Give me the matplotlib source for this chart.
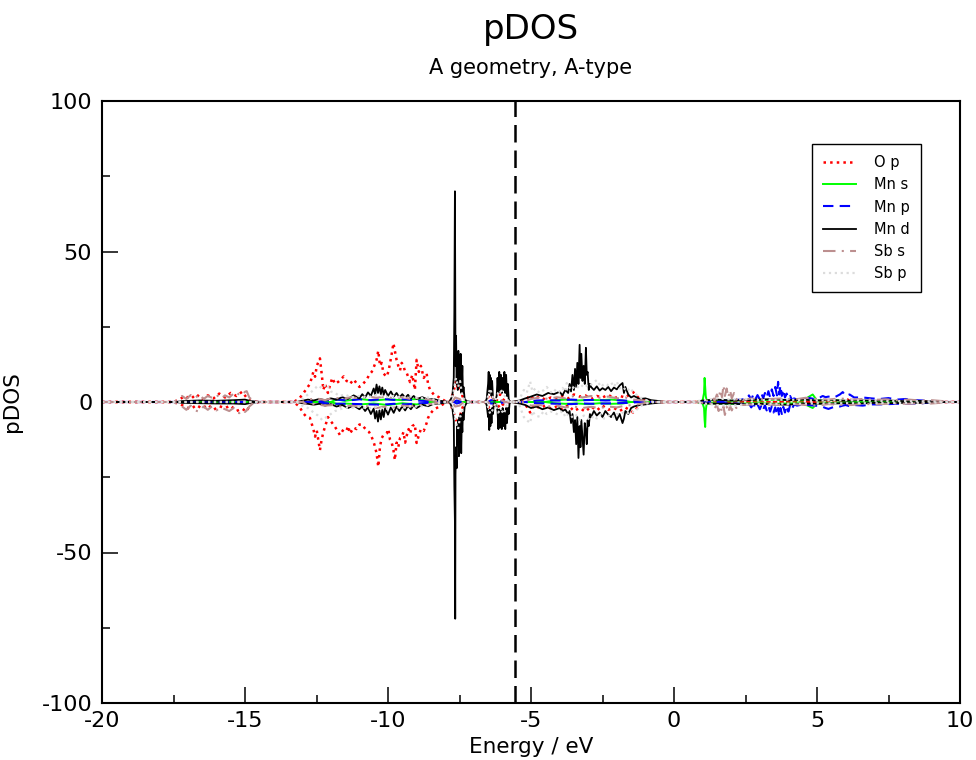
import numpy as np
import matplotlib
matplotlib.use('Agg')
import matplotlib.pyplot as plt

plt.rcParams['font.family'] = ['DejaVu Sans']
plt.rcParams['axes.unicode_minus'] = False

# (energy / eV, spin up, spin down)
o_p = [
    (-20, 0, 0), (-17.5, 0, 0), (-17.3, 0.8, -0.6), (-17.1, 2.0, -1.5), (-16.9, 1.0, -2.4),
    (-16.7, 2.6, -1.0), (-16.5, 0.8, -2.2), (-16.3, 2.2, -0.9), (-16.1, 1.2, -2.6), (-15.9, 2.8, -1.4),
    (-15.7, 1.5, -2.0), (-15.5, 3.0, -1.2), (-15.3, 2.0, -3.0), (-15.1, 3.4, -2.2), (-14.95, 1.5, -3.2),
    (-14.8, 0.3, -0.5), (-14.5, 0, 0), (-13.3, 0, 0), (-13.1, 1.2, -1.5), (-12.96, 2.9, -3.8),
    (-12.84, 4.5, -5.0), (-12.73, 6.0, -5.3), (-12.61, 10.0, -9.0), (-12.55, 8.4, -11.5), (-12.49, 12.0, -9.5),
    (-12.38, 14.5, -16.0), (-12.32, 9.5, -12.5), (-12.26, 4.0, -10.0), (-12.2, 6.0, -8.2), (-12.1, 3.0, -5.0),
    (-12.03, 5.5, -6.0), (-11.95, 8.0, -7.0), (-11.85, 6.0, -8.3), (-11.74, 6.7, -10.0), (-11.68, 7.2, -11.0),
    (-11.55, 8.5, -9.0), (-11.45, 7.0, -9.4), (-11.39, 6.7, -8.0), (-11.33, 6.0, -10.5), (-11.2, 7.5, -8.5),
    (-11.1, 6.2, -9.0), (-11.0, 5.0, -7.5), (-10.92, 5.5, -7.4), (-10.83, 6.5, -8.5), (-10.75, 7.3, -9.4),
    (-10.66, 9.0, -10.0), (-10.57, 10.0, -11.6), (-10.48, 12.0, -14.0), (-10.4, 14.0, -17.0), (-10.34, 17.0, -21.5),
    (-10.28, 12.0, -14.8), (-10.22, 13.0, -12.0), (-10.16, 9.5, -11.0), (-10.05, 8.4, -10.5), (-9.99, 10.0, -9.0),
    (-9.93, 12.8, -12.5), (-9.87, 16.0, -13.5), (-9.81, 19.5, -16.0), (-9.76, 17.0, -19.3), (-9.7, 14.0, -13.5),
    (-9.64, 12.0, -15.0), (-9.58, 10.5, -12.0), (-9.52, 13.0, -11.6), (-9.46, 12.0, -10.0), (-9.4, 10.0, -13.5),
    (-9.34, 9.5, -11.0), (-9.28, 8.0, -9.0), (-9.23, 6.6, -10.5), (-9.15, 9.0, -8.0), (-9.06, 4.0, -7.4),
    (-9.0, 14.0, -13.6), (-8.92, 10.0, -11.0), (-8.85, 12.0, -9.0), (-8.75, 8.0, -9.6), (-8.65, 9.6, -7.0),
    (-8.6, 6.0, -5.3), (-8.53, 4.0, -4.0), (-8.4, 2.5, -2.5), (-8.2, 1.5, -1.5), (-8.0, 0.3, -0.3),
    (-7.85, 0, 0), (-7.72, 3.0, -3.0), (-7.62, 7.0, -6.0), (-7.55, 4.0, -7.0), (-7.48, 5.5, -4.5),
    (-7.4, 2.0, -2.0), (-7.3, 0, 0), (-6.55, 0, 0), (-6.45, 3.0, -2.5), (-6.4, 5.0, -4.5),
    (-6.35, 1.5, -1.5), (-6.2, 0.5, -0.5), (-6.08, 2.5, -2.0), (-6.0, 1.0, -1.0), (-5.85, 0, 0),
    (-5.3, 0, 0), (-5.15, 1.0, -1.5), (-5.03, 2.3, -3.5), (-4.9, 1.0, -1.0), (-4.7, 1.8, -2.0),
    (-4.5, 0.8, -1.2), (-4.3, 1.5, -2.2), (-4.1, 1.0, -1.5), (-3.9, 2.0, -2.5), (-3.7, 1.2, -1.0),
    (-3.5, 2.5, -3.0), (-3.3, 1.8, -2.0), (-3.1, 2.2, -3.2), (-2.9, 1.0, -1.5), (-2.7, 2.0, -2.8),
    (-2.5, 1.5, -1.2), (-2.3, 2.4, -2.6), (-2.1, 1.2, -2.0), (-1.9, 2.0, -3.0), (-1.7, 1.5, -1.8),
    (-1.43, 3.3, -3.5), (-1.2, 1.0, -1.0), (-0.9, 0.3, -0.3), (-0.7, 0, 0), (5.8, 0, 0),
    (6.04, 1.0, -0.6), (6.2, 0, 0), (10, 0, 0),
]

mn_s = [
    (-20, 0, 0), (-12.0, 0, 0), (-11.8, 0.8, -0.6), (-11.5, 0.4, -0.5), (-11.0, 1.0, -0.8),
    (-10.5, 0.5, -0.5), (-10.0, 0.9, -1.0), (-9.5, 0.6, -0.4), (-9.0, 1.0, -0.8), (-8.6, 0.3, -0.3),
    (-8.4, 0, 0), (-4.5, 0, 0), (-4.2, 0.5, -0.4), (-3.8, 0.8, -0.6), (-3.4, 0.5, -0.5),
    (-3.0, 0.7, -0.7), (-2.6, 0.6, -0.4), (-2.2, 0.8, -0.6), (-1.8, 0.5, -0.5), (-1.5, 0, 0),
    (0.8, 0, 0), (1.0, 0.5, -0.5), (1.05, 3.0, -2.0), (1.07, 8.0, -6.0), (1.09, 5.0, -8.3),
    (1.11, 2.0, -3.0), (1.14, 0.6, -0.6), (1.3, 0.5, -0.4), (1.6, 0.6, -0.5), (2.0, 0.4, -0.6),
    (2.5, 0.7, -0.5), (3.0, 0.5, -0.4), (3.5, 0.8, -0.6), (4.0, 0.6, -0.5), (4.5, 0.5, -0.4),
    (4.85, 2.5, -2.0), (5.0, 0.5, -0.5), (5.5, 0.6, -0.4), (6.0, 0.4, -0.3), (6.5, 0, 0),
    (10, 0, 0),
]

mn_p = [
    (-20, 0, 0), (-12.5, 0, 0), (-12.2, 0.5, -0.4), (-11.8, 0.8, -0.6), (-11.4, 0.5, -0.6),
    (-11.0, 0.9, -0.7), (-10.6, 0.6, -0.8), (-10.2, 1.0, -0.9), (-9.8, 0.7, -0.6), (-9.4, 0.9, -0.8),
    (-9.0, 0.5, -0.5), (-8.6, 0.3, -0.3), (-8.3, 0, 0), (-7.7, 0, 0), (-7.6, 0.5, -0.5),
    (-7.4, 0, 0), (-6.5, 0, 0), (-6.4, 0.6, -0.5), (-6.1, 0.4, -0.4), (-5.9, 0, 0),
    (-5.2, 0, 0), (-4.8, 0.5, -0.4), (-4.4, 0.6, -0.5), (-4.0, 0.5, -0.6), (-3.6, 0.8, -0.7),
    (-3.2, 0.6, -0.5), (-2.8, 0.7, -0.6), (-2.4, 0.5, -0.5), (-2.0, 0.6, -0.4), (-1.6, 0.4, -0.3),
    (-1.2, 0, 0), (1.5, 0, 0), (1.8, 0.5, -0.4), (2.2, 0.7, -0.5), (2.55, 1.0, -0.8),
    (2.62, 2.2, -0.5), (2.7, 0.8, -1.8), (2.78, 2.6, -0.6), (2.85, 1.0, -2.2), (2.92, 2.3, -0.8),
    (3.0, 0.9, -2.4), (3.06, 2.8, -1.0), (3.12, 1.2, -2.6), (3.18, 3.0, -1.0), (3.24, 1.5, -2.8),
    (3.3, 3.6, -1.2), (3.36, 1.6, -3.2), (3.42, 4.2, -1.4), (3.48, 2.0, -3.5), (3.54, 5.0, -1.8),
    (3.6, 2.2, -4.2), (3.64, 6.7, -2.0), (3.68, 2.5, -4.9), (3.72, 5.5, -2.0), (3.77, 2.0, -4.0),
    (3.82, 4.2, -1.6), (3.88, 1.5, -3.5), (3.94, 2.8, -1.2), (4.0, 1.2, -3.2), (4.06, 2.0, -1.0),
    (4.12, 0.8, -2.4), (4.2, 1.2, -0.8), (4.3, 0.8, -1.2), (4.5, 0.8, -0.8), (4.7, 1.4, -1.0),
    (4.9, 1.0, -1.2), (5.1, 1.5, -1.3), (5.2, 2.0, -1.6), (5.3, 1.6, -2.0), (5.4, 1.8, -2.3),
    (5.6, 1.5, -1.6), (5.8, 2.5, -1.5), (5.9, 3.3, -1.2), (6.0, 2.0, -1.0), (6.14, 2.5, -1.4),
    (6.3, 1.5, -1.0), (6.6, 1.5, -1.2), (6.9, 1.2, -0.8), (7.2, 1.0, -0.8), (7.5, 1.3, -0.7),
    (7.8, 0.8, -0.6), (8.1, 1.0, -0.5), (8.4, 0.6, -0.5), (8.7, 0.5, -0.4), (8.9, 0.2, -0.2),
    (9.1, 0, 0), (10, 0, 0),
]

mn_d = [
    (-20, 0, 0), (-17.4, 0, 0), (-17.2, 0.3, -0.3), (-16.6, 0.5, -0.4), (-16.0, 0.4, -0.5),
    (-15.4, 0.6, -0.5), (-15.0, 0.8, -0.7), (-14.8, 0.3, -0.3), (-14.5, 0, 0), (-13.2, 0, 0),
    (-13.0, 0.4, -0.4), (-12.8, 0.8, -0.6), (-12.6, 0.5, -0.9), (-12.4, 1.0, -0.6), (-12.2, 0.6, -1.2),
    (-12.0, 1.2, -0.7), (-11.8, 0.8, -1.5), (-11.6, 1.6, -1.0), (-11.4, 1.0, -2.0), (-11.2, 2.2, -1.2),
    (-11.0, 1.2, -2.4), (-10.9, 2.6, -1.5), (-10.8, 1.5, -3.0), (-10.7, 3.2, -1.8), (-10.6, 2.0, -4.0),
    (-10.5, 4.5, -2.2), (-10.45, 2.5, -5.5), (-10.4, 5.8, -3.0), (-10.35, 3.0, -6.5), (-10.3, 5.2, -2.8),
    (-10.25, 2.6, -5.8), (-10.2, 4.8, -2.5), (-10.15, 2.4, -5.0), (-10.1, 4.0, -2.0), (-10.0, 2.0, -4.2),
    (-9.9, 3.5, -1.8), (-9.8, 1.8, -3.6), (-9.7, 3.0, -1.5), (-9.6, 1.5, -3.0), (-9.5, 2.6, -1.4),
    (-9.4, 1.4, -2.8), (-9.3, 2.4, -1.2), (-9.2, 1.2, -2.4), (-9.1, 2.0, -1.0), (-9.0, 1.0, -2.0),
    (-8.8, 1.6, -0.9), (-8.6, 0.8, -1.4), (-8.4, 1.0, -0.6), (-8.2, 0.4, -0.5), (-8.0, 0.2, -0.2),
    (-7.85, 0, 0), (-7.75, 2.0, -2.0), (-7.7, 8.0, -6.0), (-7.68, 30.0, -28.0), (-7.66, 70.0, -40.0),
    (-7.65, 45.0, -72.0), (-7.64, 12.0, -24.0), (-7.62, 22.0, -15.0), (-7.6, 6.0, -22.0), (-7.58, 14.0, -8.0),
    (-7.56, 4.0, -14.0), (-7.54, 17.0, -6.0), (-7.52, 8.0, -18.0), (-7.5, 12.0, -5.0), (-7.48, 5.0, -12.0),
    (-7.46, 16.0, -4.0), (-7.44, 3.0, -17.0), (-7.42, 6.0, -6.0), (-7.4, 12.0, -10.0), (-7.38, 3.0, -3.0),
    (-7.36, 5.0, -6.0), (-7.32, 1.0, -1.5), (-7.25, 0.3, -0.3), (-7.1, 0, 0), (-6.6, 0, 0),
    (-6.55, 1.0, -1.0), (-6.5, 6.0, -5.0), (-6.48, 10.0, -3.0), (-6.46, 3.0, -9.3), (-6.44, 9.0, -2.5),
    (-6.42, 4.0, -8.0), (-6.4, 8.0, -3.0), (-6.38, 2.0, -7.0), (-6.36, 7.0, -2.0), (-6.33, 1.5, -4.0),
    (-6.3, 0.5, -0.5), (-6.25, 0.5, -0.5), (-6.2, 2.0, -1.5), (-6.17, 8.0, -3.0), (-6.14, 3.0, -9.0),
    (-6.11, 10.0, -2.5), (-6.08, 4.0, -8.5), (-6.05, 9.0, -3.0), (-6.02, 3.0, -9.0), (-5.99, 8.0, -2.0),
    (-5.96, 4.0, -8.0), (-5.93, 10.0, -3.0), (-5.9, 3.0, -9.0), (-5.87, 9.0, -2.0), (-5.84, 2.0, -7.0),
    (-5.81, 6.0, -2.0), (-5.78, 1.0, -4.0), (-5.75, 0.3, -0.5), (-5.7, 0, 0),
    (-5.4, 0.5, -0.5), (-5.2, 1.2, -1.0), (-5.0, 1.8, -2.0), (-4.8, 2.5, -1.5), (-4.6, 2.0, -2.4),
    (-4.4, 3.0, -1.8), (-4.2, 2.6, -2.7), (-4.0, 3.4, -2.0), (-3.9, 2.2, -3.0), (-3.8, 4.0, -2.5),
    (-3.7, 3.0, -4.0), (-3.65, 6.0, -3.0), (-3.6, 3.5, -7.0), (-3.55, 9.0, -4.0), (-3.5, 4.0, -10.0),
    (-3.46, 11.0, -6.0), (-3.42, 5.0, -14.0), (-3.38, 13.0, -5.0), (-3.34, 6.0, -18.6), (-3.3, 19.0, -8.0),
    (-3.27, 8.0, -15.0), (-3.24, 16.0, -6.0), (-3.2, 7.0, -12.0), (-3.16, 12.0, -17.5), (-3.12, 6.0, -7.0),
    (-3.08, 18.0, -10.0), (-3.05, 9.0, -14.0), (-3.02, 10.0, -6.0), (-2.98, 4.0, -8.0), (-2.94, 6.0, -4.0),
    (-2.9, 5.0, -5.0), (-2.8, 4.0, -3.0), (-2.7, 5.2, -4.5), (-2.6, 3.8, -3.5), (-2.5, 4.6, -5.0),
    (-2.4, 4.0, -3.0), (-2.3, 5.0, -4.2), (-2.2, 3.6, -5.0), (-2.1, 4.8, -3.5), (-2.0, 4.2, -6.0),
    (-1.9, 5.5, -4.0), (-1.8, 6.3, -7.0), (-1.75, 3.0, -5.5), (-1.7, 5.0, -3.0), (-1.6, 2.5, -4.0),
    (-1.5, 1.5, -2.0), (-1.4, 2.0, -1.5), (-1.2, 1.0, -1.0), (-1.0, 1.2, -0.8), (-0.8, 0.6, -0.5),
    (-0.6, 0.4, -0.3), (-0.4, 0.1, -0.1), (-0.2, 0, 0), (0.8, 0, 0), (1.0, 0.5, -0.4),
    (1.5, 0.8, -0.6), (2.0, 0.5, -0.5), (2.5, 0.6, -0.8), (3.0, 0.8, -0.6), (3.5, 1.0, -0.8),
    (4.0, 0.6, -0.9), (4.5, 0.8, -0.5), (5.0, 0.5, -0.6), (5.5, 0.7, -0.5), (6.0, 0.4, -0.4),
    (6.5, 0.6, -0.5), (7.0, 0.4, -0.3), (7.5, 0.5, -0.4), (8.0, 0.3, -0.3), (8.5, 0.4, -0.3),
    (9.0, 0.2, -0.2), (9.3, 0, 0), (10, 0, 0),
]

sb_s = [
    (-20, 0, 0), (-17.5, 0, 0), (-17.35, 0.8, -0.8), (-17.2, 2.0, -1.5), (-17.05, 1.0, -2.6),
    (-16.9, 2.3, -1.2), (-16.75, 1.2, -2.8), (-16.6, 2.6, -3.2), (-16.45, 1.0, -1.5), (-16.3, 2.0, -2.6),
    (-16.15, 1.4, -1.4), (-16.0, 2.5, -2.8), (-15.85, 1.0, -1.8), (-15.7, 2.2, -2.4), (-15.55, 1.5, -3.0),
    (-15.4, 2.8, -2.0), (-15.3, 2.0, -3.5), (-15.2, 3.0, -3.7), (-15.1, 2.4, -2.6), (-15.0, 3.4, -3.3),
    (-14.94, 3.6, -2.8), (-14.85, 1.5, -1.5), (-14.7, 0.3, -0.3), (-14.5, 0, 0), (-13.0, 0, 0),
    (-12.8, 0.8, -1.0), (-12.5, 1.2, -0.8), (-12.2, 0.6, -1.2), (-11.9, 1.5, -1.0), (-11.6, 1.0, -1.6),
    (-11.3, 1.6, -1.2), (-11.0, 1.2, -1.5), (-10.7, 1.8, -1.4), (-10.4, 1.4, -2.0), (-10.1, 1.8, -1.5),
    (-9.8, 1.2, -1.8), (-9.5, 1.6, -1.2), (-9.2, 1.0, -1.4), (-8.9, 1.3, -1.0), (-8.6, 0.8, -0.8),
    (-8.3, 0.3, -0.3), (-8.0, 0, 0), (-7.75, 0, 0), (-7.65, 1.5, -1.5), (-7.5, 1.0, -1.2),
    (-7.35, 0, 0), (-6.5, 0, 0), (-6.4, 1.0, -1.0), (-6.1, 0.8, -0.8), (-5.9, 0, 0),
    (-5.3, 0, 0), (-5.0, 1.0, -1.2), (-4.7, 1.5, -1.0), (-4.4, 1.0, -1.5), (-4.1, 1.6, -1.2),
    (-3.8, 1.2, -1.8), (-3.5, 2.0, -1.5), (-3.2, 1.5, -2.0), (-2.9, 2.0, -1.6), (-2.6, 1.4, -2.0),
    (-2.3, 1.8, -1.5), (-2.0, 1.2, -1.8), (-1.7, 1.5, -1.2), (-1.4, 0.8, -1.0), (-1.1, 0.5, -0.5),
    (-0.8, 0, 0), (0.8, 0, 0), (1.2, 0.5, -0.5), (1.35, 1.5, -0.5), (1.42, 0.5, -2.0),
    (1.5, 2.5, -1.0), (1.56, 1.0, -3.0), (1.62, 4.0, -1.2), (1.68, 1.5, -3.5), (1.73, 5.6, -1.5),
    (1.78, 2.0, -4.3), (1.84, 4.5, -1.5), (1.9, 1.5, -3.5), (1.96, 4.0, -1.2), (2.02, 1.2, -2.8),
    (2.1, 3.0, -1.0), (2.18, 0.8, -2.0), (2.25, 1.5, -0.6), (2.4, 0.6, -1.0), (2.7, 1.2, -0.8),
    (3.0, 0.8, -1.0), (3.4, 1.0, -0.8), (3.8, 1.2, -1.0), (4.2, 0.8, -0.7), (4.6, 1.4, -1.0),
    (5.0, 1.0, -1.2), (5.4, 0.8, -0.7), (5.8, 1.2, -0.9), (6.2, 0.8, -1.0), (6.6, 1.0, -0.6),
    (7.0, 0.7, -0.8), (7.4, 0.9, -0.6), (7.8, 0.6, -0.5), (8.2, 0.8, -0.6), (8.6, 0.5, -0.4),
    (9.0, 0.6, -0.5), (9.4, 0.3, -0.2), (9.7, 0, 0), (10, 0, 0),
]

sb_p = [
    (-20, 0, 0), (-13.2, 0, 0), (-13.0, 1.0, -1.2), (-12.8, 2.5, -2.0), (-12.6, 4.0, -3.5),
    (-12.45, 5.5, -4.5), (-12.3, 4.5, -6.0), (-12.15, 6.0, -5.0), (-12.0, 3.5, -4.0), (-11.85, 3.0, -3.0),
    (-11.7, 2.0, -2.5), (-11.5, 2.5, -1.8), (-11.3, 1.5, -2.0), (-11.0, 2.0, -1.5), (-10.7, 1.5, -2.2),
    (-10.4, 2.4, -1.6), (-10.1, 1.6, -2.4), (-9.8, 2.0, -1.5), (-9.5, 1.5, -2.0), (-9.2, 1.8, -1.4),
    (-8.9, 1.2, -1.6), (-8.6, 1.5, -1.0), (-8.3, 0.5, -0.5), (-8.0, 0, 0), (-7.8, 0, 0),
    (-7.7, 4.0, -3.0), (-7.62, 8.0, -7.0), (-7.55, 5.0, -9.0), (-7.48, 7.0, -5.0), (-7.42, 3.0, -4.0),
    (-7.35, 1.0, -1.0), (-7.25, 0, 0), (-6.55, 0, 0), (-6.48, 3.0, -2.5), (-6.42, 4.5, -4.0),
    (-6.36, 2.0, -3.0), (-6.25, 0.5, -0.5), (-6.15, 3.0, -3.5), (-6.05, 4.0, -2.5), (-5.95, 2.5, -4.0),
    (-5.85, 1.0, -1.0), (-5.75, 0, 0), (-5.45, 0, 0), (-5.35, 2.0, -2.5), (-5.25, 4.0, -5.0),
    (-5.15, 3.0, -6.0), (-5.03, 6.8, -7.0), (-4.95, 3.5, -3.0), (-4.85, 4.5, -4.5), (-4.7, 3.0, -4.9),
    (-4.55, 4.0, -3.0), (-4.45, 5.0, -4.0), (-4.3, 3.2, -3.2), (-4.2, 4.2, -3.5), (-4.05, 3.0, -4.2),
    (-3.9, 4.7, -3.0), (-3.8, 3.5, -4.9), (-3.75, 6.3, -4.0), (-3.6, 4.0, -5.2), (-3.45, 5.5, -4.0),
    (-3.3, 4.5, -6.0), (-3.15, 6.0, -4.5), (-3.0, 5.0, -5.5), (-2.94, 5.5, -6.0), (-2.8, 6.5, -4.5),
    (-2.7, 7.3, -5.5), (-2.55, 5.0, -4.0), (-2.45, 6.0, -5.5), (-2.35, 5.5, -5.0), (-2.2, 6.5, -4.0),
    (-2.1, 5.0, -5.0), (-2.0, 6.8, -4.0), (-1.9, 4.5, -4.2), (-1.78, 5.0, -3.5), (-1.65, 3.5, -4.0),
    (-1.54, 4.7, -3.0), (-1.4, 3.0, -3.5), (-1.25, 2.0, -2.0), (-1.1, 1.0, -1.0), (-0.9, 0.4, -0.4),
    (-0.7, 0, 0), (0.5, 0, 0), (1.0, 0.5, -0.4), (1.5, 1.2, -1.0), (2.0, 0.8, -1.2),
    (2.5, 1.0, -0.8), (3.0, 0.6, -0.6), (4.0, 0.8, -0.6), (5.0, 0.5, -0.5), (6.0, 0.6, -0.4),
    (7.0, 0.4, -0.4), (8.0, 0.3, -0.3), (9.0, 0.2, -0.2), (10, 0, 0),
]

e_fermi = -5.56

series = [
    ('O p', o_p, dict(color='#ff0000', ls=':', lw=1.8)),
    ('Mn s', mn_s, dict(color='#00ff00', ls='-', lw=1.4)),
    ('Mn p', mn_p, dict(color='#0000ff', ls=(0, (5, 3)), lw=1.5)),
    ('Mn d', mn_d, dict(color='black', ls='-', lw=1.3)),
    ('Sb s', sb_s, dict(color='#bc8f8f', ls=(0, (6, 3, 1, 3)), lw=1.5)),
    ('Sb p', sb_p, dict(color='#dcdcdc', ls=':', lw=1.6)),
]

fig = plt.figure(figsize=(9.76, 7.6), dpi=100)
ax = fig.add_axes([102/976, 57/760, 858/976, 602/760])

for name, data, style in series:
    d = np.array(data, dtype=float)
    ax.plot(d[:, 0], d[:, 1], label=name, **style)
    ax.plot(d[:, 0], d[:, 2], **style)

ax.axvline(e_fermi, color='black', lw=1.8, dashes=(7, 3.2))

ax.set_xlim(-20, 10)
ax.set_ylim(-100, 100)
ax.set_xticks(np.arange(-20, 11, 5))
ax.set_xticks(np.arange(-17.5, 10, 5), minor=True)
ax.set_yticks(np.arange(-100, 101, 50))
ax.set_yticks(np.arange(-75, 100, 50), minor=True)
ax.tick_params(which='both', direction='in', top=False, right=False, labelsize=16, width=1.1)
ax.tick_params(which='major', length=11.5)
ax.tick_params(which='minor', length=5.8)
ax.tick_params(axis='x', pad=6)
ax.tick_params(axis='y', pad=7)
for s in ax.spines.values():
    s.set_linewidth(1.5)

ax.set_xlabel('Energy / eV', fontsize=15.5, labelpad=4)
ax.set_ylabel('pDOS', fontsize=15.5, labelpad=14)

xc = (102 + 960) / 2 / 976
fig.text(xc, 1 - 30/760, 'pDOS', ha='center', va='center', fontsize=24.5)
fig.text(xc, 1 - 68/760, 'A geometry, A-type', ha='center', va='center', fontsize=15)

leg = ax.legend(loc='upper left', bbox_to_anchor=(812/976, 1 - 144/760),
                bbox_transform=fig.transFigure, fontsize=10.5, frameon=True, fancybox=False,
                edgecolor='black', framealpha=1, borderaxespad=0, handlelength=2.3,
                handletextpad=1.2, labelspacing=0.5, borderpad=0.75)
leg.get_frame().set_linewidth(1.0)

fig.savefig('out.png', dpi=100)
